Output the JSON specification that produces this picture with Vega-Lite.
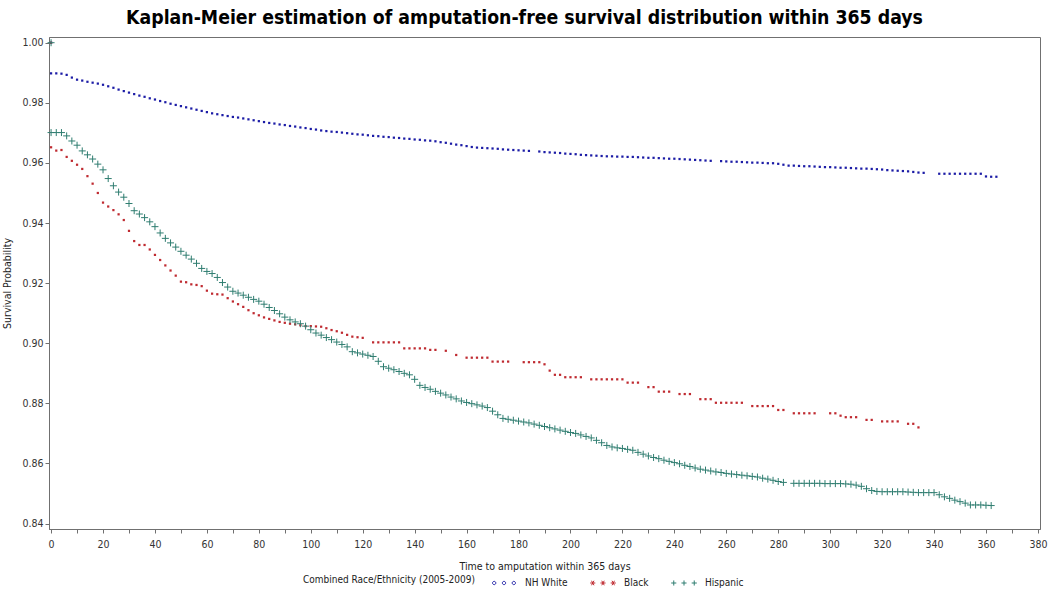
{
"$schema":"https://vega.github.io/schema/vega-lite/v6.json",
"width":991,"height":492,
"autosize":"none",
"padding":{"left":49,"top":37,"right":10,"bottom":66},
"background":"white",
"title":{"text":"Kaplan-Meier estimation of amputation-free survival distribution within 365 days","font":"'DejaVu Sans Condensed','Liberation Sans Narrow',sans-serif","fontSize":19.3,"fontWeight":"bold","color":"#000000","anchor":"middle","offset":9,"dx":-20},
"config":{
"view":{"stroke":"#707070","strokeWidth":1},
"font":"'Liberation Sans Narrow','Arial Narrow','DejaVu Sans Condensed',sans-serif",
"axis":{"grid":false,"domainColor":"#707070","tickColor":"#707070","tickSize":4,"labelFontSize":10.5,"labelColor":"#333333","titleFontSize":10.5,"titleFontWeight":"normal","titleColor":"#222222","labelFont":"'Liberation Sans Narrow','Arial Narrow','DejaVu Sans Condensed',sans-serif","titleFont":"'Liberation Sans Narrow','Arial Narrow','DejaVu Sans Condensed',sans-serif"},
"legend":{"labelFont":"'Liberation Sans Narrow','Arial Narrow','DejaVu Sans Condensed',sans-serif","titleFont":"'Liberation Sans Narrow','Arial Narrow','DejaVu Sans Condensed',sans-serif"}
},
"data":{"values":[
{"g":"NH White","t":0,"s":1.0},{"g":"Black","t":0,"s":1.0},{"g":"Hispanic","t":0,"s":1.0},
{"g":"NH White","t":0,"s":0.9898},{"g":"NH White","t":2,"s":0.9898},{"g":"NH White","t":4,"s":0.9897},{"g":"NH White","t":6,"s":0.9893},{"g":"NH White","t":8,"s":0.9884},{"g":"NH White","t":10,"s":0.9877},{"g":"NH White","t":12,"s":0.9874},{"g":"NH White","t":14,"s":0.987},{"g":"NH White","t":16,"s":0.9867},{"g":"NH White","t":18,"s":0.9864},{"g":"NH White","t":20,"s":0.986},{"g":"NH White","t":22,"s":0.9855},{"g":"NH White","t":24,"s":0.985},{"g":"NH White","t":26,"s":0.9844},{"g":"NH White","t":28,"s":0.9839},{"g":"NH White","t":30,"s":0.9834},{"g":"NH White","t":32,"s":0.9829},{"g":"NH White","t":34,"s":0.9824},{"g":"NH White","t":36,"s":0.982},{"g":"NH White","t":38,"s":0.9815},{"g":"NH White","t":40,"s":0.9811},{"g":"NH White","t":42,"s":0.9806},{"g":"NH White","t":44,"s":0.9802},{"g":"NH White","t":46,"s":0.9797},{"g":"NH White","t":48,"s":0.9793},{"g":"NH White","t":50,"s":0.9789},{"g":"NH White","t":52,"s":0.9785},{"g":"NH White","t":54,"s":0.9781},{"g":"NH White","t":56,"s":0.9777},{"g":"NH White","t":58,"s":0.9773},{"g":"NH White","t":60,"s":0.9769},{"g":"NH White","t":62,"s":0.9765},{"g":"NH White","t":64,"s":0.9762},{"g":"NH White","t":66,"s":0.9759},{"g":"NH White","t":68,"s":0.9756},{"g":"NH White","t":70,"s":0.9753},{"g":"NH White","t":72,"s":0.9751},{"g":"NH White","t":74,"s":0.9748},{"g":"NH White","t":76,"s":0.9745},{"g":"NH White","t":78,"s":0.9742},{"g":"NH White","t":80,"s":0.9739},{"g":"NH White","t":82,"s":0.9736},{"g":"NH White","t":84,"s":0.9733},{"g":"NH White","t":86,"s":0.9731},{"g":"NH White","t":88,"s":0.9728},{"g":"NH White","t":90,"s":0.9726},{"g":"NH White","t":92,"s":0.9723},{"g":"NH White","t":94,"s":0.9721},{"g":"NH White","t":96,"s":0.9718},{"g":"NH White","t":98,"s":0.9716},{"g":"NH White","t":100,"s":0.9713},{"g":"NH White","t":102,"s":0.9711},{"g":"NH White","t":104,"s":0.9708},{"g":"NH White","t":106,"s":0.9706},{"g":"NH White","t":108,"s":0.9704},{"g":"NH White","t":110,"s":0.9703},{"g":"NH White","t":112,"s":0.9701},{"g":"NH White","t":114,"s":0.9699},{"g":"NH White","t":116,"s":0.9697},{"g":"NH White","t":118,"s":0.9695},{"g":"NH White","t":120,"s":0.9694},{"g":"NH White","t":122,"s":0.9692},{"g":"NH White","t":124,"s":0.969},{"g":"NH White","t":126,"s":0.9689},{"g":"NH White","t":128,"s":0.9687},{"g":"NH White","t":130,"s":0.9686},{"g":"NH White","t":132,"s":0.9684},{"g":"NH White","t":134,"s":0.9683},{"g":"NH White","t":136,"s":0.9681},{"g":"NH White","t":138,"s":0.968},{"g":"NH White","t":140,"s":0.9678},{"g":"NH White","t":142,"s":0.9677},{"g":"NH White","t":144,"s":0.9675},{"g":"NH White","t":146,"s":0.9674},{"g":"NH White","t":148,"s":0.9672},{"g":"NH White","t":150,"s":0.9669},{"g":"NH White","t":152,"s":0.9667},{"g":"NH White","t":154,"s":0.9664},{"g":"NH White","t":156,"s":0.9661},{"g":"NH White","t":158,"s":0.9659},{"g":"NH White","t":160,"s":0.9656},{"g":"NH White","t":162,"s":0.9653},{"g":"NH White","t":164,"s":0.9651},{"g":"NH White","t":166,"s":0.965},{"g":"NH White","t":168,"s":0.9649},{"g":"NH White","t":170,"s":0.9648},{"g":"NH White","t":172,"s":0.9647},{"g":"NH White","t":174,"s":0.9645},{"g":"NH White","t":176,"s":0.9644},{"g":"NH White","t":178,"s":0.9643},{"g":"NH White","t":180,"s":0.9642},{"g":"NH White","t":182,"s":0.9641},{"g":"NH White","t":184,"s":0.964},{"g":"NH White","t":188,"s":0.9638},{"g":"NH White","t":190,"s":0.9636},{"g":"NH White","t":192,"s":0.9635},{"g":"NH White","t":194,"s":0.9634},{"g":"NH White","t":196,"s":0.9633},{"g":"NH White","t":198,"s":0.9631},{"g":"NH White","t":200,"s":0.963},{"g":"NH White","t":202,"s":0.9629},{"g":"NH White","t":204,"s":0.9627},{"g":"NH White","t":206,"s":0.9626},{"g":"NH White","t":208,"s":0.9625},{"g":"NH White","t":210,"s":0.9624},{"g":"NH White","t":212,"s":0.9623},{"g":"NH White","t":214,"s":0.9622},{"g":"NH White","t":216,"s":0.9622},{"g":"NH White","t":218,"s":0.9621},{"g":"NH White","t":220,"s":0.9621},{"g":"NH White","t":222,"s":0.962},{"g":"NH White","t":224,"s":0.962},{"g":"NH White","t":226,"s":0.9619},{"g":"NH White","t":228,"s":0.9618},{"g":"NH White","t":230,"s":0.9617},{"g":"NH White","t":232,"s":0.9617},{"g":"NH White","t":234,"s":0.9616},{"g":"NH White","t":236,"s":0.9615},{"g":"NH White","t":238,"s":0.9614},{"g":"NH White","t":240,"s":0.9614},{"g":"NH White","t":242,"s":0.9613},{"g":"NH White","t":244,"s":0.9612},{"g":"NH White","t":246,"s":0.9611},{"g":"NH White","t":248,"s":0.961},{"g":"NH White","t":250,"s":0.9609},{"g":"NH White","t":252,"s":0.9608},{"g":"NH White","t":254,"s":0.9607},{"g":"NH White","t":258,"s":0.9606},{"g":"NH White","t":260,"s":0.9605},{"g":"NH White","t":262,"s":0.9604},{"g":"NH White","t":264,"s":0.9604},{"g":"NH White","t":266,"s":0.9603},{"g":"NH White","t":268,"s":0.9602},{"g":"NH White","t":270,"s":0.9601},{"g":"NH White","t":272,"s":0.9601},{"g":"NH White","t":274,"s":0.96},{"g":"NH White","t":276,"s":0.9599},{"g":"NH White","t":278,"s":0.9599},{"g":"NH White","t":280,"s":0.9597},{"g":"NH White","t":282,"s":0.9594},{"g":"NH White","t":284,"s":0.9591},{"g":"NH White","t":286,"s":0.9591},{"g":"NH White","t":288,"s":0.959},{"g":"NH White","t":290,"s":0.9589},{"g":"NH White","t":292,"s":0.9589},{"g":"NH White","t":294,"s":0.9588},{"g":"NH White","t":296,"s":0.9587},{"g":"NH White","t":298,"s":0.9586},{"g":"NH White","t":300,"s":0.9586},{"g":"NH White","t":302,"s":0.9585},{"g":"NH White","t":304,"s":0.9584},{"g":"NH White","t":306,"s":0.9584},{"g":"NH White","t":308,"s":0.9583},{"g":"NH White","t":310,"s":0.9582},{"g":"NH White","t":312,"s":0.9581},{"g":"NH White","t":314,"s":0.9581},{"g":"NH White","t":316,"s":0.958},{"g":"NH White","t":318,"s":0.9579},{"g":"NH White","t":320,"s":0.9578},{"g":"NH White","t":322,"s":0.9576},{"g":"NH White","t":324,"s":0.9575},{"g":"NH White","t":326,"s":0.9574},{"g":"NH White","t":328,"s":0.9573},{"g":"NH White","t":330,"s":0.9572},{"g":"NH White","t":332,"s":0.957},{"g":"NH White","t":334,"s":0.9568},{"g":"NH White","t":336,"s":0.9567},{"g":"NH White","t":342,"s":0.9564},{"g":"NH White","t":344,"s":0.9564},{"g":"NH White","t":346,"s":0.9564},{"g":"NH White","t":348,"s":0.9564},{"g":"NH White","t":350,"s":0.9564},{"g":"NH White","t":352,"s":0.9564},{"g":"NH White","t":354,"s":0.9564},{"g":"NH White","t":356,"s":0.9564},{"g":"NH White","t":358,"s":0.9564},{"g":"NH White","t":360,"s":0.9555},{"g":"NH White","t":362,"s":0.9554},{"g":"NH White","t":364,"s":0.9554},
{"g":"Black","t":0,"s":0.9652},{"g":"Black","t":2,"s":0.9641},{"g":"Black","t":4,"s":0.9643},{"g":"Black","t":6,"s":0.962},{"g":"Black","t":8,"s":0.9607},{"g":"Black","t":10,"s":0.9594},{"g":"Black","t":12,"s":0.958},{"g":"Black","t":14,"s":0.9556},{"g":"Black","t":16,"s":0.9531},{"g":"Black","t":18,"s":0.95},{"g":"Black","t":20,"s":0.9468},{"g":"Black","t":22,"s":0.9455},{"g":"Black","t":24,"s":0.9443},{"g":"Black","t":26,"s":0.9429},{"g":"Black","t":28,"s":0.941},{"g":"Black","t":30,"s":0.9374},{"g":"Black","t":32,"s":0.934},{"g":"Black","t":34,"s":0.9327},{"g":"Black","t":36,"s":0.9327},{"g":"Black","t":38,"s":0.9312},{"g":"Black","t":40,"s":0.9294},{"g":"Black","t":42,"s":0.9277},{"g":"Black","t":44,"s":0.9259},{"g":"Black","t":46,"s":0.9242},{"g":"Black","t":48,"s":0.9225},{"g":"Black","t":50,"s":0.9205},{"g":"Black","t":52,"s":0.9203},{"g":"Black","t":54,"s":0.9196},{"g":"Black","t":56,"s":0.9194},{"g":"Black","t":58,"s":0.919},{"g":"Black","t":60,"s":0.9175},{"g":"Black","t":62,"s":0.9165},{"g":"Black","t":64,"s":0.9163},{"g":"Black","t":66,"s":0.9162},{"g":"Black","t":68,"s":0.915},{"g":"Black","t":70,"s":0.9139},{"g":"Black","t":72,"s":0.913},{"g":"Black","t":74,"s":0.9121},{"g":"Black","t":76,"s":0.911},{"g":"Black","t":78,"s":0.91},{"g":"Black","t":80,"s":0.9093},{"g":"Black","t":82,"s":0.9086},{"g":"Black","t":84,"s":0.9081},{"g":"Black","t":86,"s":0.9076},{"g":"Black","t":88,"s":0.9071},{"g":"Black","t":90,"s":0.9068},{"g":"Black","t":92,"s":0.9065},{"g":"Black","t":94,"s":0.9063},{"g":"Black","t":96,"s":0.906},{"g":"Black","t":98,"s":0.9057},{"g":"Black","t":100,"s":0.9057},{"g":"Black","t":102,"s":0.9056},{"g":"Black","t":104,"s":0.9055},{"g":"Black","t":106,"s":0.905},{"g":"Black","t":108,"s":0.9044},{"g":"Black","t":110,"s":0.904},{"g":"Black","t":112,"s":0.9035},{"g":"Black","t":114,"s":0.9028},{"g":"Black","t":116,"s":0.9022},{"g":"Black","t":118,"s":0.902},{"g":"Black","t":120,"s":0.9018},{"g":"Black","t":124,"s":0.9003},{"g":"Black","t":126,"s":0.9003},{"g":"Black","t":128,"s":0.9003},{"g":"Black","t":130,"s":0.9003},{"g":"Black","t":132,"s":0.9003},{"g":"Black","t":134,"s":0.9003},{"g":"Black","t":136,"s":0.8983},{"g":"Black","t":138,"s":0.8983},{"g":"Black","t":140,"s":0.8983},{"g":"Black","t":142,"s":0.8983},{"g":"Black","t":144,"s":0.8983},{"g":"Black","t":146,"s":0.8978},{"g":"Black","t":148,"s":0.8978},{"g":"Black","t":152,"s":0.8975},{"g":"Black","t":156,"s":0.8961},{"g":"Black","t":160,"s":0.8952},{"g":"Black","t":162,"s":0.8952},{"g":"Black","t":164,"s":0.8952},{"g":"Black","t":166,"s":0.8952},{"g":"Black","t":168,"s":0.8952},{"g":"Black","t":170,"s":0.8939},{"g":"Black","t":172,"s":0.8939},{"g":"Black","t":174,"s":0.8939},{"g":"Black","t":176,"s":0.8939},{"g":"Black","t":182,"s":0.8937},{"g":"Black","t":184,"s":0.8937},{"g":"Black","t":186,"s":0.8937},{"g":"Black","t":188,"s":0.8937},{"g":"Black","t":190,"s":0.893},{"g":"Black","t":192,"s":0.8909},{"g":"Black","t":194,"s":0.8895},{"g":"Black","t":196,"s":0.8895},{"g":"Black","t":198,"s":0.8887},{"g":"Black","t":200,"s":0.8887},{"g":"Black","t":202,"s":0.8887},{"g":"Black","t":204,"s":0.8887},{"g":"Black","t":208,"s":0.888},{"g":"Black","t":210,"s":0.888},{"g":"Black","t":212,"s":0.888},{"g":"Black","t":214,"s":0.888},{"g":"Black","t":216,"s":0.888},{"g":"Black","t":218,"s":0.888},{"g":"Black","t":220,"s":0.888},{"g":"Black","t":222,"s":0.8869},{"g":"Black","t":224,"s":0.8869},{"g":"Black","t":226,"s":0.8869},{"g":"Black","t":230,"s":0.8854},{"g":"Black","t":232,"s":0.8854},{"g":"Black","t":234,"s":0.8839},{"g":"Black","t":236,"s":0.8839},{"g":"Black","t":238,"s":0.8839},{"g":"Black","t":242,"s":0.8831},{"g":"Black","t":244,"s":0.8831},{"g":"Black","t":246,"s":0.8831},{"g":"Black","t":250,"s":0.8814},{"g":"Black","t":252,"s":0.8814},{"g":"Black","t":254,"s":0.8814},{"g":"Black","t":256,"s":0.8802},{"g":"Black","t":258,"s":0.8802},{"g":"Black","t":260,"s":0.8802},{"g":"Black","t":262,"s":0.8802},{"g":"Black","t":264,"s":0.8802},{"g":"Black","t":266,"s":0.8802},{"g":"Black","t":270,"s":0.8791},{"g":"Black","t":272,"s":0.8791},{"g":"Black","t":274,"s":0.8791},{"g":"Black","t":276,"s":0.8791},{"g":"Black","t":278,"s":0.8791},{"g":"Black","t":280,"s":0.8778},{"g":"Black","t":282,"s":0.8778},{"g":"Black","t":286,"s":0.8767},{"g":"Black","t":288,"s":0.8767},{"g":"Black","t":290,"s":0.8767},{"g":"Black","t":292,"s":0.8767},{"g":"Black","t":294,"s":0.8767},{"g":"Black","t":300,"s":0.8767},{"g":"Black","t":302,"s":0.8767},{"g":"Black","t":304,"s":0.8759},{"g":"Black","t":306,"s":0.8754},{"g":"Black","t":308,"s":0.8754},{"g":"Black","t":310,"s":0.8754},{"g":"Black","t":314,"s":0.8745},{"g":"Black","t":316,"s":0.8745},{"g":"Black","t":320,"s":0.874},{"g":"Black","t":322,"s":0.874},{"g":"Black","t":324,"s":0.874},{"g":"Black","t":326,"s":0.874},{"g":"Black","t":330,"s":0.8732},{"g":"Black","t":332,"s":0.8732},{"g":"Black","t":334,"s":0.872},
{"g":"Hispanic","t":0,"s":0.9701},{"g":"Hispanic","t":2,"s":0.9701},{"g":"Hispanic","t":4,"s":0.9701},{"g":"Hispanic","t":6,"s":0.969},{"g":"Hispanic","t":8,"s":0.9673},{"g":"Hispanic","t":10,"s":0.9659},{"g":"Hispanic","t":12,"s":0.964},{"g":"Hispanic","t":14,"s":0.9627},{"g":"Hispanic","t":16,"s":0.9613},{"g":"Hispanic","t":18,"s":0.9596},{"g":"Hispanic","t":20,"s":0.9577},{"g":"Hispanic","t":22,"s":0.9548},{"g":"Hispanic","t":24,"s":0.9524},{"g":"Hispanic","t":26,"s":0.9503},{"g":"Hispanic","t":28,"s":0.9486},{"g":"Hispanic","t":30,"s":0.9465},{"g":"Hispanic","t":32,"s":0.9441},{"g":"Hispanic","t":34,"s":0.943},{"g":"Hispanic","t":36,"s":0.9418},{"g":"Hispanic","t":38,"s":0.9404},{"g":"Hispanic","t":40,"s":0.9388},{"g":"Hispanic","t":42,"s":0.9367},{"g":"Hispanic","t":44,"s":0.9349},{"g":"Hispanic","t":46,"s":0.9334},{"g":"Hispanic","t":48,"s":0.932},{"g":"Hispanic","t":50,"s":0.9306},{"g":"Hispanic","t":52,"s":0.9293},{"g":"Hispanic","t":54,"s":0.928},{"g":"Hispanic","t":56,"s":0.9266},{"g":"Hispanic","t":58,"s":0.9249},{"g":"Hispanic","t":60,"s":0.9239},{"g":"Hispanic","t":62,"s":0.9232},{"g":"Hispanic","t":64,"s":0.9219},{"g":"Hispanic","t":66,"s":0.9202},{"g":"Hispanic","t":68,"s":0.9187},{"g":"Hispanic","t":70,"s":0.9173},{"g":"Hispanic","t":72,"s":0.9167},{"g":"Hispanic","t":74,"s":0.916},{"g":"Hispanic","t":76,"s":0.9153},{"g":"Hispanic","t":78,"s":0.9146},{"g":"Hispanic","t":80,"s":0.914},{"g":"Hispanic","t":82,"s":0.913},{"g":"Hispanic","t":84,"s":0.9119},{"g":"Hispanic","t":86,"s":0.9109},{"g":"Hispanic","t":88,"s":0.9098},{"g":"Hispanic","t":90,"s":0.9087},{"g":"Hispanic","t":92,"s":0.9078},{"g":"Hispanic","t":94,"s":0.9071},{"g":"Hispanic","t":96,"s":0.9065},{"g":"Hispanic","t":98,"s":0.9057},{"g":"Hispanic","t":100,"s":0.9045},{"g":"Hispanic","t":102,"s":0.9034},{"g":"Hispanic","t":104,"s":0.9027},{"g":"Hispanic","t":106,"s":0.9019},{"g":"Hispanic","t":108,"s":0.9012},{"g":"Hispanic","t":110,"s":0.9004},{"g":"Hispanic","t":112,"s":0.8996},{"g":"Hispanic","t":114,"s":0.8988},{"g":"Hispanic","t":116,"s":0.8972},{"g":"Hispanic","t":118,"s":0.8968},{"g":"Hispanic","t":120,"s":0.8964},{"g":"Hispanic","t":122,"s":0.896},{"g":"Hispanic","t":124,"s":0.8956},{"g":"Hispanic","t":126,"s":0.894},{"g":"Hispanic","t":128,"s":0.8922},{"g":"Hispanic","t":130,"s":0.8917},{"g":"Hispanic","t":132,"s":0.8912},{"g":"Hispanic","t":134,"s":0.8906},{"g":"Hispanic","t":136,"s":0.89},{"g":"Hispanic","t":138,"s":0.8895},{"g":"Hispanic","t":140,"s":0.888},{"g":"Hispanic","t":142,"s":0.886},{"g":"Hispanic","t":144,"s":0.8853},{"g":"Hispanic","t":146,"s":0.8847},{"g":"Hispanic","t":148,"s":0.884},{"g":"Hispanic","t":150,"s":0.8834},{"g":"Hispanic","t":152,"s":0.8828},{"g":"Hispanic","t":154,"s":0.8821},{"g":"Hispanic","t":156,"s":0.8815},{"g":"Hispanic","t":158,"s":0.8808},{"g":"Hispanic","t":160,"s":0.8803},{"g":"Hispanic","t":162,"s":0.8799},{"g":"Hispanic","t":164,"s":0.8795},{"g":"Hispanic","t":166,"s":0.8791},{"g":"Hispanic","t":168,"s":0.8786},{"g":"Hispanic","t":170,"s":0.8774},{"g":"Hispanic","t":172,"s":0.8762},{"g":"Hispanic","t":174,"s":0.875},{"g":"Hispanic","t":176,"s":0.8747},{"g":"Hispanic","t":178,"s":0.8744},{"g":"Hispanic","t":180,"s":0.8741},{"g":"Hispanic","t":182,"s":0.8738},{"g":"Hispanic","t":184,"s":0.8735},{"g":"Hispanic","t":186,"s":0.8731},{"g":"Hispanic","t":188,"s":0.8727},{"g":"Hispanic","t":190,"s":0.8723},{"g":"Hispanic","t":192,"s":0.8719},{"g":"Hispanic","t":194,"s":0.8715},{"g":"Hispanic","t":196,"s":0.8711},{"g":"Hispanic","t":198,"s":0.8707},{"g":"Hispanic","t":200,"s":0.8703},{"g":"Hispanic","t":202,"s":0.87},{"g":"Hispanic","t":204,"s":0.8695},{"g":"Hispanic","t":206,"s":0.869},{"g":"Hispanic","t":208,"s":0.8685},{"g":"Hispanic","t":210,"s":0.8677},{"g":"Hispanic","t":212,"s":0.8669},{"g":"Hispanic","t":214,"s":0.866},{"g":"Hispanic","t":216,"s":0.8655},{"g":"Hispanic","t":218,"s":0.8652},{"g":"Hispanic","t":220,"s":0.865},{"g":"Hispanic","t":222,"s":0.8647},{"g":"Hispanic","t":224,"s":0.8644},{"g":"Hispanic","t":226,"s":0.8637},{"g":"Hispanic","t":228,"s":0.8631},{"g":"Hispanic","t":230,"s":0.8625},{"g":"Hispanic","t":232,"s":0.862},{"g":"Hispanic","t":234,"s":0.8616},{"g":"Hispanic","t":236,"s":0.8611},{"g":"Hispanic","t":238,"s":0.8607},{"g":"Hispanic","t":240,"s":0.8603},{"g":"Hispanic","t":242,"s":0.8599},{"g":"Hispanic","t":244,"s":0.8594},{"g":"Hispanic","t":246,"s":0.859},{"g":"Hispanic","t":248,"s":0.8585},{"g":"Hispanic","t":250,"s":0.8581},{"g":"Hispanic","t":252,"s":0.8578},{"g":"Hispanic","t":254,"s":0.8575},{"g":"Hispanic","t":256,"s":0.8572},{"g":"Hispanic","t":258,"s":0.857},{"g":"Hispanic","t":260,"s":0.8567},{"g":"Hispanic","t":262,"s":0.8565},{"g":"Hispanic","t":264,"s":0.8563},{"g":"Hispanic","t":266,"s":0.8561},{"g":"Hispanic","t":268,"s":0.8559},{"g":"Hispanic","t":270,"s":0.8557},{"g":"Hispanic","t":272,"s":0.8555},{"g":"Hispanic","t":274,"s":0.8551},{"g":"Hispanic","t":276,"s":0.8548},{"g":"Hispanic","t":278,"s":0.8544},{"g":"Hispanic","t":280,"s":0.854},{"g":"Hispanic","t":282,"s":0.8537},{"g":"Hispanic","t":286,"s":0.8534},{"g":"Hispanic","t":288,"s":0.8534},{"g":"Hispanic","t":290,"s":0.8534},{"g":"Hispanic","t":292,"s":0.8534},{"g":"Hispanic","t":294,"s":0.8534},{"g":"Hispanic","t":296,"s":0.8534},{"g":"Hispanic","t":298,"s":0.8533},{"g":"Hispanic","t":300,"s":0.8533},{"g":"Hispanic","t":302,"s":0.8533},{"g":"Hispanic","t":304,"s":0.8533},{"g":"Hispanic","t":306,"s":0.8532},{"g":"Hispanic","t":308,"s":0.8531},{"g":"Hispanic","t":310,"s":0.8528},{"g":"Hispanic","t":312,"s":0.8524},{"g":"Hispanic","t":314,"s":0.8516},{"g":"Hispanic","t":316,"s":0.851},{"g":"Hispanic","t":318,"s":0.8507},{"g":"Hispanic","t":320,"s":0.8506},{"g":"Hispanic","t":322,"s":0.8506},{"g":"Hispanic","t":324,"s":0.8506},{"g":"Hispanic","t":326,"s":0.8506},{"g":"Hispanic","t":328,"s":0.8506},{"g":"Hispanic","t":330,"s":0.8505},{"g":"Hispanic","t":332,"s":0.8504},{"g":"Hispanic","t":334,"s":0.8503},{"g":"Hispanic","t":336,"s":0.8503},{"g":"Hispanic","t":338,"s":0.8503},{"g":"Hispanic","t":340,"s":0.8503},{"g":"Hispanic","t":342,"s":0.8496},{"g":"Hispanic","t":344,"s":0.8489},{"g":"Hispanic","t":346,"s":0.8484},{"g":"Hispanic","t":348,"s":0.8478},{"g":"Hispanic","t":350,"s":0.8473},{"g":"Hispanic","t":352,"s":0.8468},{"g":"Hispanic","t":354,"s":0.8462},{"g":"Hispanic","t":356,"s":0.8462},{"g":"Hispanic","t":358,"s":0.8462},{"g":"Hispanic","t":360,"s":0.8461},{"g":"Hispanic","t":362,"s":0.846}
]},
"encoding":{
"x":{"field":"t","type":"quantitative","scale":{"domain":[-0.8,380.8],"nice":false,"zero":false},"axis":{"title":"Time to amputation within 365 days","values":[0,10,20,30,40,50,60,70,80,90,100,110,120,130,140,150,160,170,180,190,200,210,220,230,240,250,260,270,280,290,300,310,320,330,340,350,360,370,380],"labelExpr":"datum.value % 20 === 0 ? datum.label : ''","labelPadding":6,"titlePadding":12}},
"y":{"field":"s","type":"quantitative","scale":{"domain":[0.8382,1.0019],"nice":false,"zero":false},"axis":{"title":"Survival Probability","values":[0.84,0.86,0.88,0.9,0.92,0.94,0.96,0.98,1.0],"format":".2f","labelPadding":2,"titlePadding":9}}
},
"layer":[
{"transform":[{"filter":"datum.g === 'NH White'"}],"mark":{"type":"point","shape":"square","filled":true,"size":5,"color":"#1c1ca6","opacity":1}},
{"transform":[{"filter":"datum.g === 'Black'"}],"mark":{"type":"point","shape":"square","filled":true,"size":5,"color":"#bf2a30","opacity":1}},
{"transform":[{"filter":"datum.g === 'Hispanic'"}],"mark":{"type":"point","shape":"M-1,0L1,0M0,-1L0,1","filled":false,"size":49,"strokeWidth":1,"color":"#2f7d70","opacity":1}},
{"mark":{"type":"point","filled":false,"opacity":0,"strokeWidth":1},
"encoding":{
"color":{"field":"g","type":"nominal","scale":{"domain":["NH White","Black","Hispanic"],"range":["#1c1ca6","#bf2a30","#2f7d70"]},"legend":{"title":"Combined Race/Ethnicity (2005-2009)","orient":"none","legendX":254,"legendY":535,"direction":"horizontal","titleOrient":"left","titleLimit":400,"titleFontSize":10,"titleFontWeight":"normal","titleColor":"#222222","titlePadding":18,"labelFontSize":10,"labelColor":"#222222","labelOffset":10,"columnPadding":20,"symbolSize":420,"symbolOpacity":1,"symbolStrokeWidth":1,"symbolFillColor":"transparent"}},
"shape":{"field":"g","type":"nominal","scale":{"domain":["NH White","Black","Hispanic"],"range":["M-0.8,0a0.16,0.16 0 1,0 -0.32,0a0.16,0.16 0 1,0 0.32,0M0.16,0a0.16,0.16 0 1,0 -0.32,0a0.16,0.16 0 1,0 0.32,0M1.12,0a0.16,0.16 0 1,0 -0.32,0a0.16,0.16 0 1,0 0.32,0","M-1.25,0L-0.75,0M-1.12,-0.22L-0.88,0.22M-1.12,0.22L-0.88,-0.22M-0.25,0L0.25,0M-0.12,-0.22L0.12,0.22M-0.12,0.22L0.12,-0.22M0.75,0L1.25,0M0.88,-0.22L1.12,0.22M0.88,0.22L1.12,-0.22","M-1.25,0L-0.75,0M-1,-0.25L-1,0.25M-0.25,0L0.25,0M0,-0.25L0,0.25M0.75,0L1.25,0M1,-0.25L1,0.25"]},"legend":{"title":"Combined Race/Ethnicity (2005-2009)","orient":"none","legendX":254,"legendY":535,"direction":"horizontal","titleOrient":"left","titleLimit":400,"titleFontSize":10,"titleFontWeight":"normal","titleColor":"#222222","titlePadding":18,"labelFontSize":10,"labelColor":"#222222","labelOffset":10,"columnPadding":20,"symbolSize":420,"symbolOpacity":1,"symbolStrokeWidth":1,"symbolFillColor":"transparent"}}
}}
]
}
